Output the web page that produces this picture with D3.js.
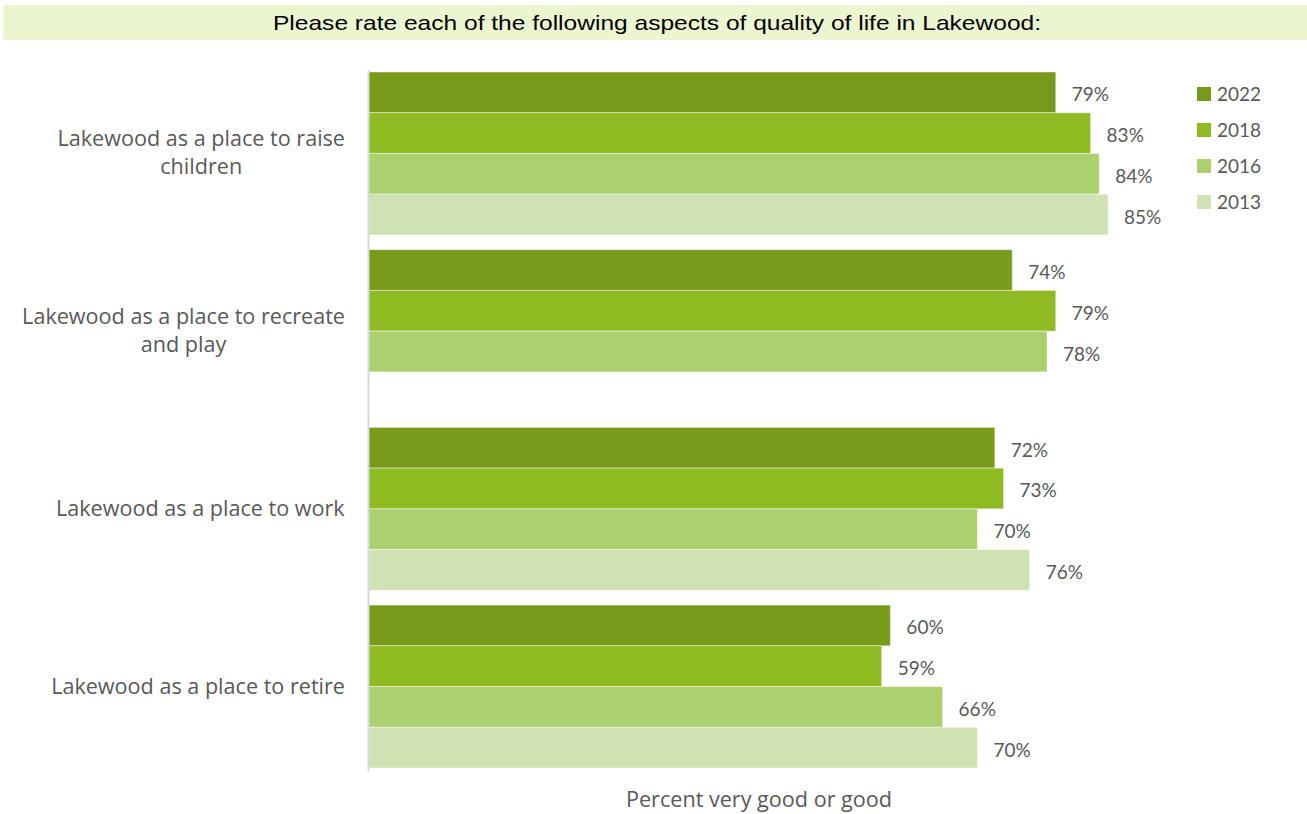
<!DOCTYPE html>
<html>
<head>
<meta charset="utf-8">
<script src="https://cdn.jsdelivr.net/npm/d3@7"></script>
<style>
  html, body { margin: 0; padding: 0; background: #fff; }
  svg { display: block; }
</style>
</head>
<body>
<svg id="chart" width="1307" height="814"></svg>
<script>
// Survey aspects (category axis), each label split into display lines
const categories = [
  ["Lakewood as a place to raise", "children"],
  ["Lakewood as a place to recreate", "and play"],
  ["Lakewood as a place to work"],
  ["Lakewood as a place to retire"]
];
const years = ["2022", "2018", "2016", "2013"];
const values2022 = [79, 74, 72, 60];
const values2018 = [83, 79, 73, 59];
const values2016 = [84, 78, 70, 66];
const values2013 = [85, null, 76, 70];
const seriesValues = [values2022, values2018, values2016, values2013];
const colors = ["#789b1c", "#8fba21", "#add06f", "#cfe2b1"];

const titleText = "Please rate each of the following aspects of quality of life in Lakewood:";
const axisTitle = "Percent very good or good";

const svg = d3.select("#chart");
const labelFont = "Lato, 'Open Sans', sans-serif";
const catFont = "'Open Sans', Lato, sans-serif";

// Title banner
svg.append("rect").attr("x", 3).attr("y", 5).attr("width", 1304).attr("height", 35)
  .attr("fill", "#ebf5d0");
svg.append("text").attr("x", 657).attr("y", 30).attr("text-anchor", "middle")
  .attr("font-family", "'Liberation Sans Narrow', 'Liberation Sans', Arial, sans-serif")
  .attr("font-size", 21).attr("fill", "#000")
  .attr("textLength", 768).attr("lengthAdjust", "spacingAndGlyphs")
  .text(titleText);

// Scales
const x = d3.scaleLinear().domain([0, 100]).range([368, 1238.6]);
const yBand = d3.scaleBand().domain(d3.range(categories.length))
  .range([64.6, 775.4]).paddingInner(0.083).paddingOuter(0.0415);
const ySub = d3.scaleBand().domain(d3.range(years.length)).range([0, yBand.bandwidth()]);

// Bars
const barData = [];
categories.forEach((c, ci) => {
  seriesValues.forEach((vals, si) => {
    if (vals[ci] != null) barData.push({ ci, si, v: vals[ci] });
  });
});

const g = svg.append("g");
g.selectAll("rect.bar").data(barData).join("rect")
  .attr("class", "bar")
  .attr("x", x(0))
  .attr("y", d => yBand(d.ci) + ySub(d.si))
  .attr("width", d => x(d.v) - x(0))
  .attr("height", ySub.bandwidth())
  .attr("fill", d => colors[d.si])
  .attr("stroke", "#ffffff").attr("stroke-opacity", 0.45).attr("stroke-width", 1);

// Value labels
g.selectAll("text.val").data(barData).join("text")
  .attr("class", "val")
  .attr("x", d => x(d.v) + 16)
  .attr("y", d => yBand(d.ci) + ySub(d.si) + ySub.bandwidth() / 2 + 9)
  .attr("font-family", labelFont).attr("font-size", 19).attr("fill", "#595959")
  .text(d => d.v + "%");

// Category axis line
svg.append("line").attr("x1", 368.5).attr("x2", 368.5).attr("y1", 70).attr("y2", 772)
  .attr("stroke", "#d9d9d9").attr("stroke-width", 2);

// Category labels: centered block, right-aligned to the axis
const catG = svg.append("g");
categories.forEach((lines, ci) => {
  const cy = yBand(ci) + yBand.bandwidth() / 2;
  const t = catG.append("text")
    .attr("font-family", catFont).attr("font-size", 21.6).attr("fill", "#595959")
    .attr("text-anchor", "middle");
  const lh = 28;
  lines.forEach((ln, li) => {
    t.append("tspan").attr("x", 0)
      .attr("y", cy + 7 + (li - (lines.length - 1) / 2) * lh)
      .text(ln);
  });
  const w = t.node().getBBox().width;
  t.selectAll("tspan").attr("x", 345 - w / 2);
});

// Axis title
svg.append("text").attr("x", 759).attr("y", 807).attr("text-anchor", "middle")
  .attr("font-family", catFont).attr("font-size", 21.6).attr("fill", "#595959")
  .text(axisTitle);

// Legend
const leg = svg.append("g");
years.forEach((yr, i) => {
  const ly = 94 + i * 36;
  leg.append("rect").attr("x", 1197).attr("y", ly - 7).attr("width", 14).attr("height", 14)
    .attr("fill", colors[i]);
  leg.append("text").attr("x", 1217).attr("y", ly + 7)
    .attr("font-family", labelFont).attr("font-size", 19).attr("fill", "#595959")
    .text(yr);
});
</script>
</body>
</html>
